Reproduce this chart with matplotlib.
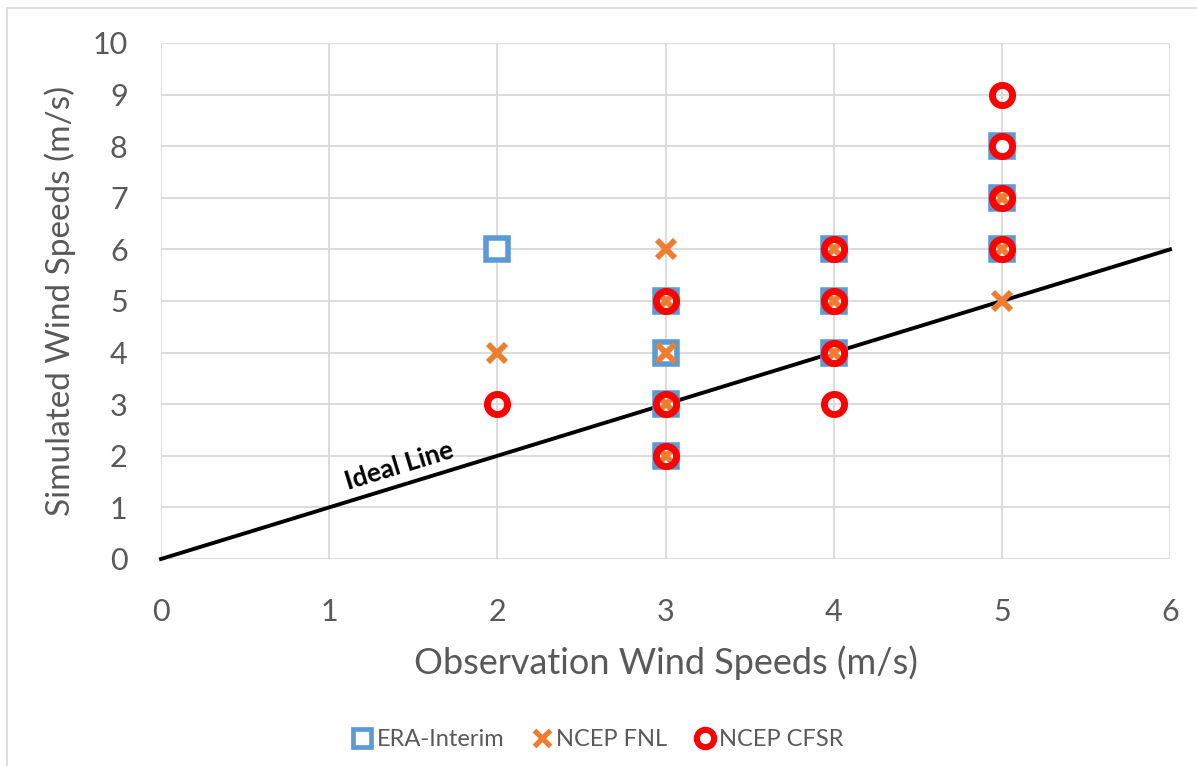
import matplotlib
matplotlib.use("Agg")
import matplotlib.pyplot as plt
from matplotlib.lines import Line2D
from matplotlib.patches import Rectangle

# Data
era_x = [2, 3, 3, 3, 3, 4, 4, 4, 5, 5, 5]
era_y = [6, 5, 4, 3, 2, 6, 5, 4, 8, 7, 6]
fnl_x = [2, 3, 3, 3, 3, 3, 4, 4, 4, 5, 5, 5]
fnl_y = [4, 6, 5, 4, 3, 2, 6, 5, 4, 7, 6, 5]
cfsr_x = [2, 3, 3, 3, 4, 4, 4, 4, 5, 5, 5, 5]
cfsr_y = [3, 5, 3, 2, 6, 5, 4, 3, 9, 8, 7, 6]
ideal_x = [0, 6]
ideal_y = [0, 6]
x_ticks = [0, 1, 2, 3, 4, 5, 6]
y_ticks = [0, 1, 2, 3, 4, 5, 6, 7, 8, 9, 10]

FONT = "Lato"
TXT = "#595959"
GRID = "#d9d9d9"
BLUE = "#5b9bd5"
ORANGE = "#ed7d31"
RED = "#ff0000"

fig = plt.figure(figsize=(11.97, 7.66), dpi=100)
ax = fig.add_axes([161/1197, 1-559/766, (1170-161)/1197, (559-43)/766])

ax.set_xlim(0, 6)
ax.set_ylim(0, 10)
ax.set_xticks(x_ticks)
ax.set_yticks(y_ticks)
ax.grid(True, color=GRID, linewidth=1.3)
ax.set_axisbelow(True)
for s in ax.spines.values():
    s.set_visible(False)
ax.tick_params(length=0, labelsize=22, labelcolor=TXT)
ax.tick_params(axis="x", pad=28)
ax.tick_params(axis="y", pad=24)
for lab in ax.get_xticklabels() + ax.get_yticklabels():
    lab.set_fontfamily(FONT)

ax.plot(ideal_x, ideal_y, color="black", linewidth=2.8, zorder=2, clip_on=False)

ax.plot(era_x, era_y, linestyle="none", marker="s", markersize=16,
        markerfacecolor="white", markeredgecolor=BLUE, markeredgewidth=4, zorder=3, clip_on=False)
ax.plot(fnl_x, fnl_y, linestyle="none", marker="x", markersize=13,
        markeredgecolor=ORANGE, markeredgewidth=4.2, zorder=4, clip_on=False)
ax.plot(cfsr_x, cfsr_y, linestyle="none", marker="o", markersize=14.5,
        markerfacecolor="none", markeredgecolor=RED, markeredgewidth=5, zorder=5, clip_on=False)

ax.text(1.42, 1.8, "Ideal Line", rotation=17, ha="center", va="center",
        fontsize=19, fontweight="bold", fontfamily=FONT, color="black",
        rotation_mode="anchor")

ax.set_xlabel("Observation Wind Speeds (m/s)", fontsize=26, color=TXT, fontfamily=FONT, labelpad=14)
ax.set_ylabel("Simulated Wind Speeds (m/s)", fontsize=24, color=TXT, fontfamily=FONT, labelpad=12)

handles = [
    Line2D([], [], linestyle="none", marker="s", markersize=13, markerfacecolor="white",
           markeredgecolor=BLUE, markeredgewidth=3.4),
    Line2D([], [], linestyle="none", marker="x", markersize=11, markeredgecolor=ORANGE,
           markeredgewidth=3.8),
    Line2D([], [], linestyle="none", marker="o", markersize=12.5, markerfacecolor="none",
           markeredgecolor=RED, markeredgewidth=4.4),
]
leg = fig.legend(handles, ["ERA-Interim", "NCEP FNL", "NCEP CFSR"], loc="center",
                 bbox_to_anchor=(596/1197, 1-740/766), ncol=3, frameon=False,
                 prop={"family": FONT, "size": 17}, handletextpad=0.0,
                 columnspacing=1.0, handlelength=1.2)
for t in leg.get_texts():
    t.set_color(TXT)

fig.patches.append(Rectangle((7/1197, -0.01), 1.02, 1-8/766 + 0.01, transform=fig.transFigure,
                             fill=False, edgecolor="#d9d9d9", linewidth=1.2))

fig.savefig("out.png", dpi=100, facecolor="white")
